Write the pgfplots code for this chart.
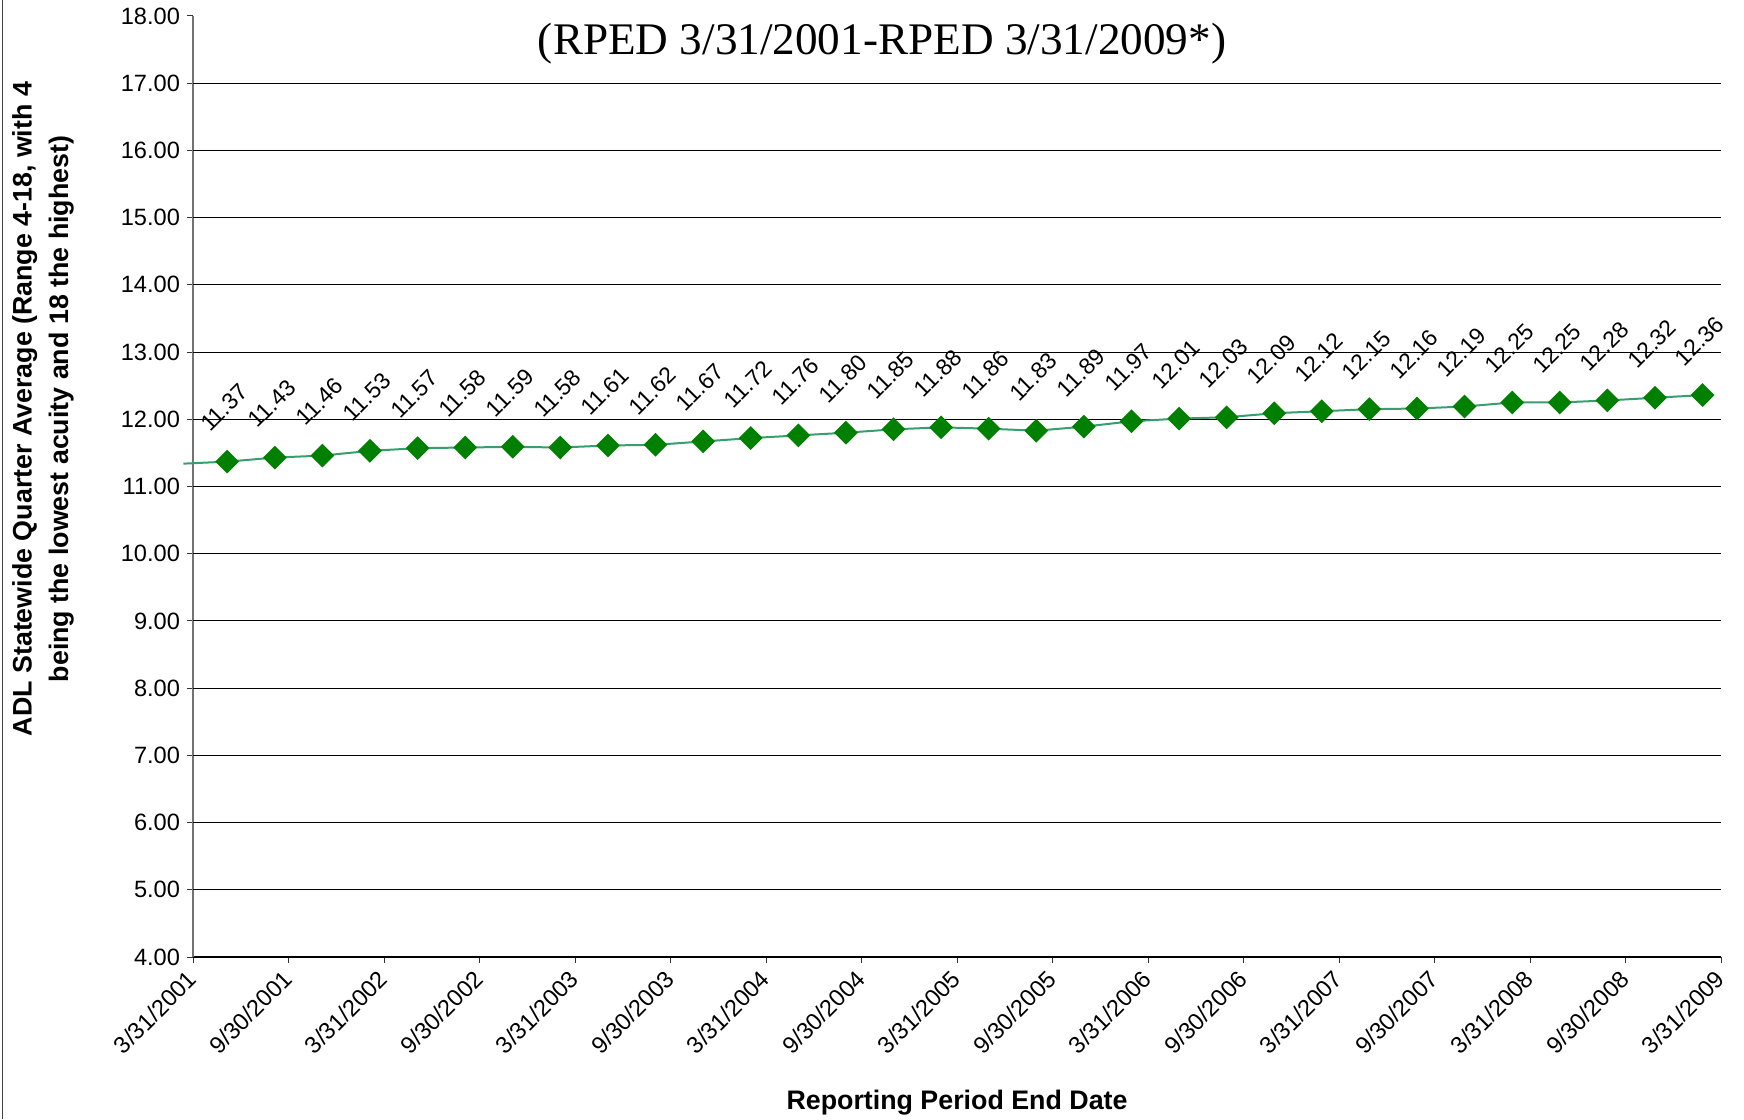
\documentclass[border=0pt]{standalone}
\usepackage{fontspec}
\setmainfont{Liberation Sans}
\newfontfamily\seriffont{Liberation Serif}
\usepackage{pgfplots}
\pgfplotsset{compat=1.18}
\definecolor{mk}{RGB}{0,128,0}
\definecolor{ln}{RGB}{55,158,110}
\begin{document}
\begin{tikzpicture}
\useasboundingbox (0,0) rectangle (872pt,559.5pt);
\draw[black!75, line width=0.8pt] (1.2pt,0) -- (1.2pt,559.5pt);
\begin{axis}[
  at={(96.5pt,81pt)}, anchor=south west,
  width=764pt, height=470.5pt, scale only axis,
  xmin=0, xmax=96, ymin=4, ymax=18,
  clip=false,
  axis x line*=bottom, axis y line*=left,
  x axis line style={black, line width=0.6pt},
  y axis line style={black!55, line width=0.6pt},
  tick align=outside, major tick length=3pt,
  tick style={black!80, line width=0.5pt},
  xtick={0,6,...,96},
  xticklabels={3/31/2001,9/30/2001,3/31/2002,9/30/2002,3/31/2003,9/30/2003,3/31/2004,9/30/2004,3/31/2005,9/30/2005,3/31/2006,9/30/2006,3/31/2007,9/30/2007,3/31/2008,9/30/2008,3/31/2009},
  xticklabel style={rotate=45, anchor=east, yshift=-4pt, xshift=-1pt, font=\fontsize{11.8}{13}\selectfont},
  ytick={4,...,18},
  yticklabel style={font=\fontsize{11.8}{13}\selectfont},
  /pgf/number format/assume math mode=true,
  yticklabel={\pgfmathprintnumber[fixed,precision=2,zerofill,assume math mode=true]{\tick}},
  extra y ticks={5,...,17},
  extra y tick labels={},
  extra y tick style={grid=major, major tick length=0pt},
  grid style={black, line width=0.5pt},
]
\addplot[ln, line width=1pt, no marks, forget plot] coordinates {(-0.6,11.34) (2.15,11.37)};
\addplot[ln, line width=1pt, mark=square*, mark size=3.7pt,
  mark options={rotate=45, fill=mk, draw=mk, solid},
  nodes near coords={\pgfmathprintnumber[fixed,precision=2,zerofill,assume math mode=true]{\pgfplotspointmeta}},
  every node near coord/.append style={font=\fontsize{11.5}{13}\selectfont, black, anchor=center, yshift=27pt, xshift=-1.5pt, rotate=45},
] coordinates {
(2.15,11.37) (5.14,11.43) (8.13,11.46) (11.12,11.53) (14.11,11.57) (17.10,11.58)
(20.09,11.59) (23.08,11.58) (26.07,11.61) (29.06,11.62) (32.05,11.67) (35.04,11.72)
(38.03,11.76) (41.02,11.80) (44.01,11.85) (47.00,11.88) (49.99,11.86) (52.98,11.83)
(55.97,11.89) (58.96,11.97) (61.95,12.01) (64.94,12.03) (67.93,12.09) (70.92,12.12)
(73.91,12.15) (76.90,12.16) (79.89,12.19) (82.88,12.25) (85.87,12.25) (88.86,12.28)
(91.85,12.32) (94.84,12.36)
};
\end{axis}
\node[font=\seriffont\fontsize{22.6}{26}\selectfont, anchor=base] at (441pt,532pt) {(RPED 3/31/2001-RPED 3/31/2009*)};
\node[font=\bfseries\fontsize{13.4}{16}\selectfont] at (478.5pt,8pt) {Reporting Period End Date};
\node[font=\bfseries\fontsize{13.4}{18.25}\selectfont, rotate=90, align=center] at (21.5pt,355pt) {ADL Statewide Quarter Average (Range 4-18, with 4\\being the lowest acuity and 18 the highest)};
\end{tikzpicture}
\end{document}
